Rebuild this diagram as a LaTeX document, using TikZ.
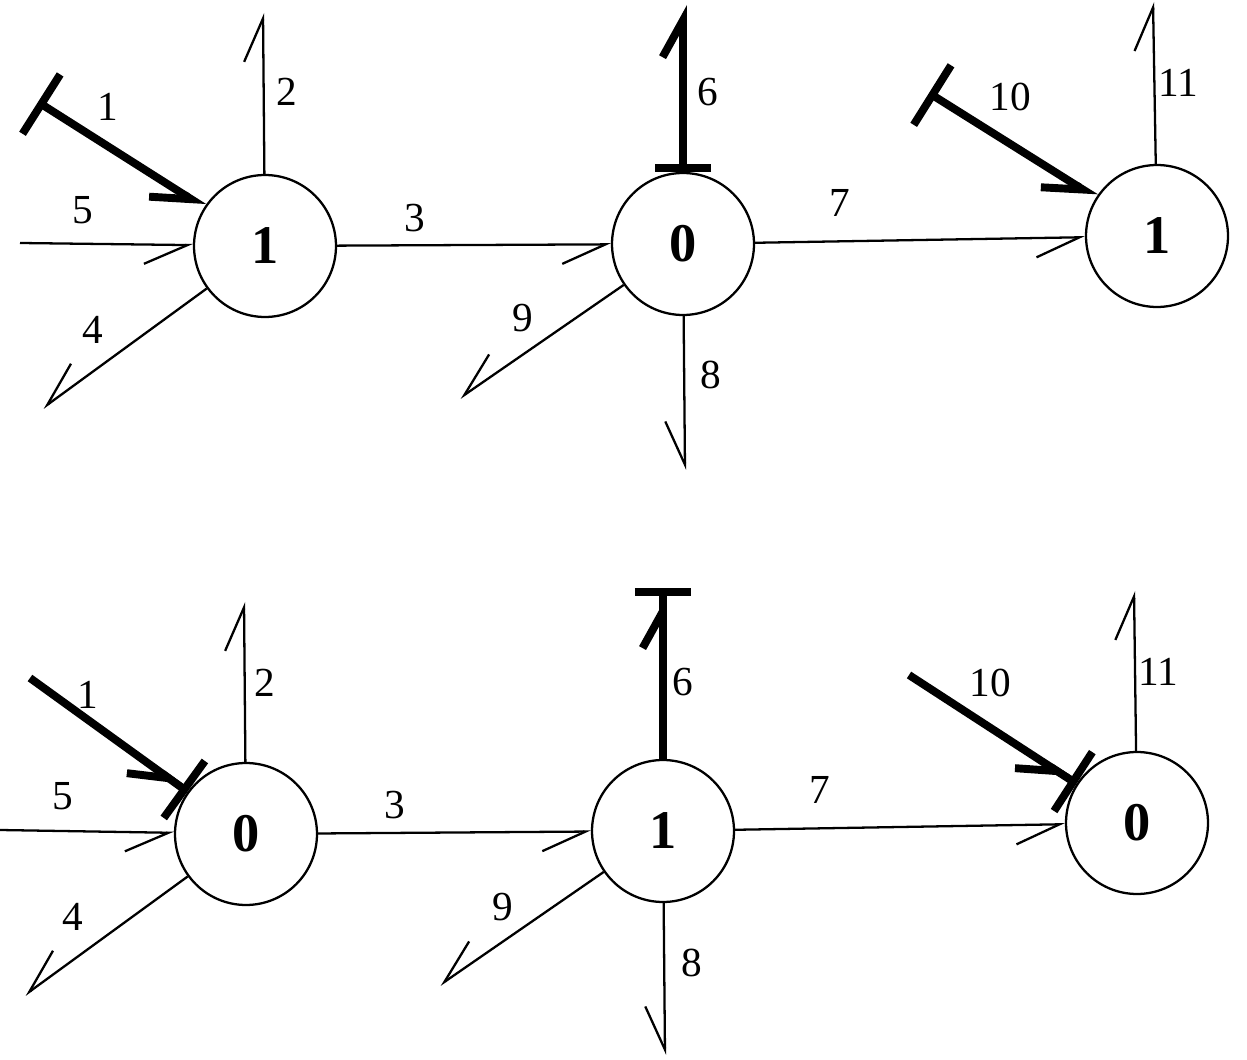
\documentclass[tikz,border=0pt]{standalone}
\usepackage{fontspec}
\setmainfont{Liberation Serif}
\usetikzlibrary{arrows.meta}

\begin{document}
\begin{tikzpicture}[x=0.02cm, y=-0.02cm,
    state/.style={draw, circle, line width=1.3pt, minimum size=2.84cm, inner sep=0pt,
        font=\fontsize{31}{32}\selectfont\bfseries},
    lbl/.style={inner sep=0pt, font=\fontsize{23.5}{24}\selectfont},
    act/.style={line width=1.3pt, -{Straight Barb[right, sharp, angle=48:27pt]}},
    actl/.style={line width=1.3pt, -{Straight Barb[left, sharp, angle=48:27pt]}},
    inh/.style={line width=4.5pt, {Bar[width=40pt]}-{Straight Barb[right, sharp, angle=58:24pt]}},
    inhl/.style={line width=4.5pt, {Bar[width=32pt]}-{Straight Barb[left, sharp, angle=58:24pt]}},
    both/.style={line width=4.5pt, -{Straight Barb[right, sharp, angle=58:24pt, sep=0pt] Bar[width=40pt]}},
    bothl/.style={line width=4.5pt, -{Straight Barb[left, sharp, angle=58:24pt, sep=0pt] Bar[width=32pt]}}]
\useasboundingbox (0,0) rectangle (1247,1060);

% upper network
\node[state] (a1) at (265,246) {1};
\node[state] (b1) at (683,244) {0};
\node[state] (c1) at (1157,236) {1};

\coordinate (a1in1) at (38,102);
\coordinate (a1out2) at (263,13);
\coordinate (a1in5) at (20,243);
\coordinate (a1out4) at (43,408);
\coordinate (b1out6) at (683,5);
\coordinate (b1out8) at (685,470);
\coordinate (b1out9) at (460,398);
\coordinate (c1in10) at (929,93);
\coordinate (c1out11) at (1153,2);

\draw[inh] (a1in1) -- (a1);
\draw[actl] (a1) -- (a1out2);
\draw[act] (a1in5) -- (a1);
\draw[act] (a1) -- (a1out4);
\draw[act] (a1) -- (b1);
\draw[inhl] (b1) -- (b1out6);
\draw[act] (b1) -- (c1);
\draw[act] (b1) -- (b1out8);
\draw[act] (b1) -- (b1out9);
\draw[inh] (c1in10) -- (c1);
\draw[actl] (c1) -- (c1out11);

\node[lbl] (t1) at (108,107) {1};
\node[lbl] (t2) at (287,92) {2};
\node[lbl] (t5) at (83,210) {5};
\node[lbl] (t4) at (93,330) {4};
\node[lbl] (t3) at (415,218) {3};
\node[lbl] (t6) at (708,92) {6};
\node[lbl] (t9) at (523,318) {9};
\node[lbl] (t8) at (711,375) {8};
\node[lbl] (t7) at (840,203) {7};
\node[lbl] (t10) at (1010,97) {10};
\node[lbl] (t11) at (1178,83) {11};

% lower network
\node[state] (a2) at (246,834) {0};
\node[state] (b2) at (663,831) {1};
\node[state] (c2) at (1137,823) {0};

\coordinate (a2in1) at (30,678);
\coordinate (a2out2) at (244,602);
\coordinate (a2in5) at (0,830);
\coordinate (a2out4) at (25,995);
\coordinate (b2out6) at (663,588);
\coordinate (b2out8) at (665,1055);
\coordinate (b2out9) at (440,985);
\coordinate (c2in10) at (909,675);
\coordinate (c2out11) at (1134,591);

\draw[both] (a2in1) -- (a2);
\draw[actl] (a2) -- (a2out2);
\draw[act] (a2in5) -- (a2);
\draw[act] (a2) -- (a2out4);
\draw[act] (a2) -- (b2);
\draw[bothl] (b2) -- (b2out6);
\draw[act] (b2) -- (c2);
\draw[act] (b2) -- (b2out8);
\draw[act] (b2) -- (b2out9);
\draw[both] (c2in10) -- (c2);
\draw[actl] (c2) -- (c2out11);

\node[lbl] (u1) at (88,695) {1};
\node[lbl] (u2) at (265,683) {2};
\node[lbl] (u5) at (63,796) {5};
\node[lbl] (u4) at (73,917) {4};
\node[lbl] (u3) at (395,805) {3};
\node[lbl] (u6) at (683,682) {6};
\node[lbl] (u9) at (503,907) {9};
\node[lbl] (u8) at (692,963) {8};
\node[lbl] (u7) at (820,790) {7};
\node[lbl] (u10) at (990,683) {10};
\node[lbl] (u11) at (1158,672) {11};
\end{tikzpicture}
\end{document}
